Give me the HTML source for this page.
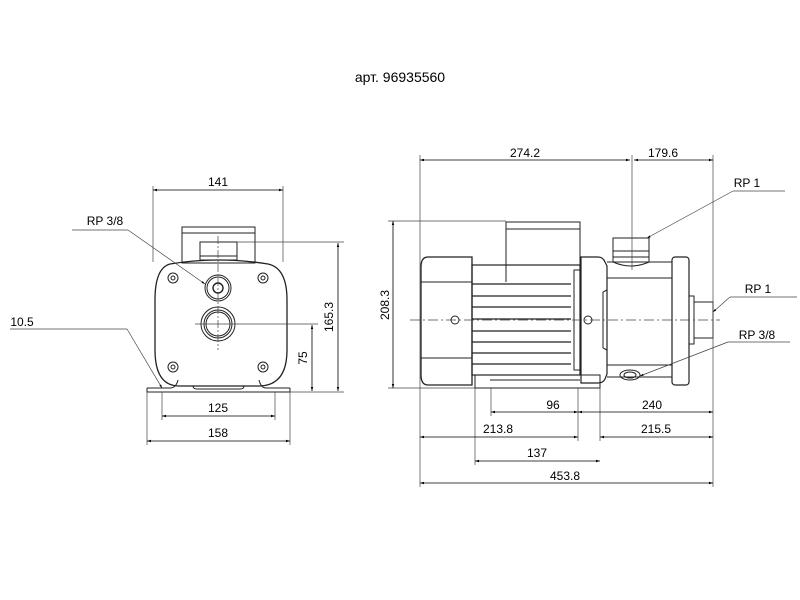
<!DOCTYPE html>
<html><head><meta charset="utf-8"><style>
html,body{margin:0;padding:0;background:#fff;}
svg{display:block;}
text{font-family:"Liberation Sans",sans-serif;font-size:12px;fill:#000;}
</style></head><body>
<svg width="800" height="600" viewBox="0 0 800 600" xmlns="http://www.w3.org/2000/svg">
<defs>
<marker id="a" viewBox="0 0 10 10" refX="10" refY="5" markerWidth="7" markerHeight="5" orient="auto-start-reverse"><path d="M0,2 L10,5 L0,8z" fill="#000"/></marker>
</defs>
<text x="400" y="82" text-anchor="middle" style="font-size:14px">арт. 96935560</text>

<!-- LEFT VIEW -->
<g fill="none" stroke="#222" stroke-width="1">
  <rect x="182" y="227" width="73" height="36"/>
  <line x1="182" y1="233" x2="255" y2="233"/>
  <rect x="200" y="242" width="37" height="18"/>
  <line x1="200" y1="256" x2="237" y2="256"/>
  <path d="M170,264 Q218,256 268,264 Q287,268 287,300 L287,350 Q287,385 260,386 L178,386 Q155,385 155,350 L155,300 Q155,268 170,264Z" stroke-width="1.3"/>
  <path d="M147,388 L170,388 Q176,388 178,380 M290,388 L266,388 Q261,388 259,380" />
  <path d="M147,388 L147,392 L290,392 L290,388"/>
  <path d="M193,386 Q193,389 197,389 L240,389 Q244,389 244,386"/>
  <circle cx="218" cy="288" r="13"/><circle cx="218" cy="288" r="11"/><circle cx="218" cy="288" r="5" stroke-width="1.4"/>
  <circle cx="218" cy="324" r="17"/><circle cx="218" cy="324" r="14"/><circle cx="218" cy="324" r="12"/>
  <g>
   <circle cx="173" cy="278" r="5"/><circle cx="173" cy="278" r="2"/>
   <circle cx="263" cy="278" r="5"/><circle cx="263" cy="278" r="2"/>
   <circle cx="173" cy="367" r="5"/><circle cx="173" cy="367" r="2"/>
   <circle cx="263" cy="367" r="5"/><circle cx="263" cy="367" r="2"/>
  </g>
</g>
<g stroke="#444" stroke-width="0.7" fill="none">
  <line x1="218" y1="236" x2="218" y2="350" stroke-dasharray="8,2,2,2"/>
  <line x1="195" y1="324" x2="318" y2="324"/>
  <line x1="237" y1="242" x2="344" y2="242"/>
  <line x1="290" y1="392" x2="344" y2="392"/>
  <line x1="153" y1="186" x2="153" y2="262"/><line x1="283" y1="186" x2="283" y2="262"/>
  <line x1="162" y1="392" x2="162" y2="420"/><line x1="275" y1="392" x2="275" y2="420"/>
  <line x1="147" y1="392" x2="147" y2="445"/><line x1="290" y1="392" x2="290" y2="445"/>
  <line x1="72" y1="230" x2="128" y2="230"/><line x1="128" y1="230" x2="205" y2="284" marker-end="url(#a)"/>
  <line x1="10" y1="329" x2="127" y2="329"/><line x1="127" y1="329" x2="162" y2="388" marker-end="url(#a)"/>
</g>
<g stroke="#000" stroke-width="0.8" marker-start="url(#a)" marker-end="url(#a)">
  <line x1="153" y1="190" x2="283" y2="190"/>
  <line x1="338" y1="243" x2="338" y2="391"/>
  <line x1="312" y1="325" x2="312" y2="391"/>
  <line x1="162" y1="416" x2="275" y2="416"/>
  <line x1="147" y1="441" x2="290" y2="441"/>
</g>
<text x="218" y="186" text-anchor="middle">141</text>
<text x="105" y="225" text-anchor="middle">RP 3/8</text>
<text x="22" y="326" text-anchor="middle">10.5</text>
<text x="218" y="412" text-anchor="middle">125</text>
<text x="218" y="437" text-anchor="middle">158</text>
<text transform="translate(333,317) rotate(-90)" text-anchor="middle">165.3</text>
<text transform="translate(307,358) rotate(-90)" text-anchor="middle">75</text>

<!-- RIGHT VIEW -->
<g fill="none" stroke="#222" stroke-width="1">
  <path d="M428,257 L472,257 L472,385 L428,385 Q421,385 421,375 L421,267 Q421,257 428,257Z" stroke-width="1.3"/>
  <line x1="421" y1="282" x2="472" y2="282"/><line x1="421" y1="358" x2="472" y2="358"/>
  <rect x="472" y="265" width="108" height="110" stroke-width="1.2"/>
  <rect x="506" y="222" width="74" height="43"/>
  <line x1="506" y1="229" x2="580" y2="229"/>
  <line x1="506" y1="265" x2="506" y2="282"/>
  <g stroke-width="1.2">
   <line x1="472" y1="284" x2="571" y2="284"/><line x1="472" y1="296" x2="571" y2="296"/>
   <line x1="472" y1="307" x2="571" y2="307"/><line x1="472" y1="319" x2="571" y2="319"/>
   <line x1="472" y1="331" x2="571" y2="331"/><line x1="472" y1="342" x2="571" y2="342"/>
   <line x1="472" y1="353" x2="571" y2="353"/><line x1="472" y1="364" x2="571" y2="364"/>
  </g>
  <rect x="574" y="270" width="7" height="100"/>
  <path d="M581,257 L598,257 Q603,257 605,262 L607,266 L607,374 L605,379 Q603,383 598,383 L581,383Z" stroke-width="1.2"/>
  <path d="M607,262 L672,262 M607,377 L672,377 M607,278 L672,278 M607,365 L672,365"/>
  <path d="M607,290 L603,292 L603,348 L607,350"/>
  <path d="M613,262 Q631,270 649,262"/>
  <rect x="613" y="238" width="36" height="19"/>
  <line x1="613" y1="251" x2="649" y2="251"/><line x1="613" y1="257" x2="613" y2="262"/><line x1="649" y1="257" x2="649" y2="262"/>
  <rect x="672" y="257" width="17" height="128" rx="3" stroke-width="1.2"/>
  <rect x="689" y="296" width="5" height="48"/>
  <rect x="694" y="302" width="19" height="36"/>
  <ellipse cx="630" cy="375" rx="10" ry="5"/><ellipse cx="630" cy="375" rx="6" ry="3"/>
  <rect x="475" y="375" width="125" height="13"/>
  <line x1="490" y1="380" x2="580" y2="380"/>
  <circle cx="455" cy="320" r="4"/><circle cx="588" cy="320" r="4"/>
</g>
<g stroke="#444" stroke-width="0.7" fill="none">
  <line x1="410" y1="320" x2="720" y2="320" stroke-dasharray="10,3,2,3"/>
  <line x1="420" y1="155" x2="420" y2="487"/>
  <line x1="713" y1="155" x2="713" y2="487"/>
  <line x1="632" y1="155" x2="632" y2="270"/>
  <line x1="388" y1="221" x2="506" y2="221"/><line x1="388" y1="388" x2="475" y2="388"/>
  <line x1="491" y1="388" x2="491" y2="416"/>
  <line x1="578" y1="388" x2="578" y2="441"/>
  <line x1="600" y1="388" x2="600" y2="441"/>
  <line x1="475" y1="388" x2="475" y2="465"/>
  <line x1="733" y1="191" x2="785" y2="191"/><line x1="733" y1="191" x2="647" y2="238" marker-end="url(#a)"/>
  <line x1="730" y1="297" x2="797" y2="297"/><line x1="730" y1="297" x2="713" y2="312" marker-end="url(#a)"/>
  <line x1="728" y1="342" x2="790" y2="342"/><line x1="728" y1="342" x2="640" y2="376" marker-end="url(#a)"/>
</g>
<g stroke="#000" stroke-width="0.8" marker-start="url(#a)" marker-end="url(#a)">
  <line x1="420" y1="160" x2="630" y2="160"/>
  <line x1="634" y1="160" x2="713" y2="160"/>
  <line x1="393" y1="221" x2="393" y2="388"/>
  <line x1="491" y1="412" x2="578" y2="412"/>
  <line x1="578" y1="412" x2="713" y2="412"/>
  <line x1="420" y1="437" x2="578" y2="437"/>
  <line x1="600" y1="437" x2="713" y2="437"/>
  <line x1="475" y1="461" x2="600" y2="461"/>
  <line x1="420" y1="483" x2="713" y2="483"/>
</g>
<text x="525" y="157" text-anchor="middle">274.2</text>
<text x="663" y="157" text-anchor="middle">179.6</text>
<text x="747" y="187" text-anchor="middle">RP 1</text>
<text x="758" y="293" text-anchor="middle">RP 1</text>
<text x="757" y="339" text-anchor="middle">RP 3/8</text>
<text x="553" y="409" text-anchor="middle">96</text>
<text x="652" y="409" text-anchor="middle">240</text>
<text x="498" y="433" text-anchor="middle">213.8</text>
<text x="656" y="433" text-anchor="middle">215.5</text>
<text x="537" y="457" text-anchor="middle">137</text>
<text x="565" y="480" text-anchor="middle">453.8</text>
<text transform="translate(389,305) rotate(-90)" text-anchor="middle">208.3</text>
</svg>
</body></html>
